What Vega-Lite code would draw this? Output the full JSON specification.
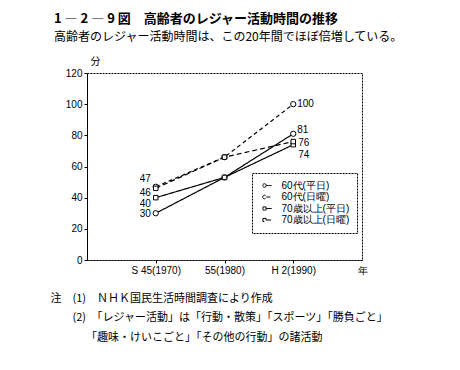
{
  "$schema": "https://vega.github.io/schema/vega-lite/v6.json",
  "width": 275,
  "height": 187,
  "autosize": {"type": "none"},
  "padding": {"left": 87, "top": 73, "right": 98, "bottom": 110},
  "background": "white",
  "config": {
    "font": "Noto Sans CJK JP",
    "view": {"stroke": "#000", "strokeDash": [2, 1], "strokeWidth": 1},
    "axis": {"labelColor": "#000", "titleColor": "#000", "domainColor": "#000", "tickColor": "#000", "grid": false, "labelFont": "Liberation Sans", "labelFontSize": 10},
    "legend": {
      "title": null,
      "orient": "none",
      "legendX": 165,
      "legendY": 100,
      "direction": "vertical",
      "strokeColor": "#000",
      "strokeDash": [2, 1],
      "fillColor": "white",
      "padding": 7.5,
      "symbolSize": 81,
      "symbolStrokeWidth": 1,
      "symbolStrokeColor": "#000",
      "symbolFillColor": "transparent",
      "labelFont": "Liberation Sans",
      "labelFontSize": 10,
      "labelColor": "#000",
      "labelOffset": 12,
      "labelExpr": "datum.label + '\u00a0\u00a0\u00a0\u00a0'",
      "rowPadding": 1.5
    }
  },
  "title": {
    "text": "1  ―  2  ―  9 図　高齢者のレジャー活動時間の推移",
    "subtitle": "高齢者のレジャー活動時間は、この20年間でほぼ倍増している。",
    "anchor": "start",
    "frame": "group",
    "dx": -33,
    "offset": 13,
    "font": "Noto Sans CJK JP",
    "fontSize": 13,
    "fontWeight": "bold",
    "color": "#000",
    "subtitleFont": "Noto Sans CJK JP",
    "subtitleFontSize": 12,
    "subtitleColor": "#000",
    "subtitlePadding": 6
  },
  "data": {
    "values": [
      {"series": "60代(平日)", "year": 1970, "min": 30},
      {"series": "60代(平日)", "year": 1980, "min": 53},
      {"series": "60代(平日)", "year": 1990, "min": 81},
      {"series": "60代(日曜)", "year": 1970, "min": 47},
      {"series": "60代(日曜)", "year": 1980, "min": 66},
      {"series": "60代(日曜)", "year": 1990, "min": 100},
      {"series": "70歳以上(平日)", "year": 1970, "min": 40},
      {"series": "70歳以上(平日)", "year": 1980, "min": 53},
      {"series": "70歳以上(平日)", "year": 1990, "min": 74},
      {"series": "70歳以上(日曜)", "year": 1970, "min": 46},
      {"series": "70歳以上(日曜)", "year": 1980, "min": 66},
      {"series": "70歳以上(日曜)", "year": 1990, "min": 76}
    ]
  },
  "encoding": {
    "x": {
      "field": "year", "type": "quantitative",
      "scale": {"domain": [1960, 2000], "nice": false},
      "axis": {
        "values": [1970, 1980, 1990, 2000],
        "labelExpr": "datum.value == 1970 ? 'S 45(1970)' : datum.value == 1980 ? '55(1980)' : datum.value == 1990 ? 'H 2(1990)' : '年'",
        "tickSize": 3,
        "labelPadding": 2,
        "domainDash": [2, 1],
        "labelFlush": false,
        "labelOverlap": false,
        "tickOpacity": {"condition": {"test": "datum.value == 2000", "value": 0}, "value": 1},
        "title": ["注　(1)　ＮＨＫ国民生活時間調査により作成", "\u200b　　(2)　「レジャー活動」は「行動・散策」「スポーツ」「勝負ごと」", "\u200b　　　\u00a0「趣味・けいこごと」「その他の行動」の諸活動"],
        "titleFont": "Noto Sans CJK JP",
        "titleFontSize": 11,
        "titleFontWeight": "normal",
        "titleAnchor": "start",
        "titleAlign": "left",
        "titleBaseline": "top",
        "titleX": -37,
        "titleY": 32,
        "titleLineHeight": 19.5
      }
    },
    "y": {
      "field": "min", "type": "quantitative",
      "scale": {"domain": [0, 120], "nice": false},
      "axis": {
        "values": [0, 20, 40, 60, 80, 100, 120],
        "tickSize": 3,
        "labelPadding": 2,
        "title": "分",
        "titleAngle": 0,
        "titleFont": "Noto Sans CJK JP",
        "titleFontSize": 10,
        "titleFontWeight": "normal",
        "titleAlign": "left",
        "titleBaseline": "bottom",
        "titleX": 3,
        "titleY": -7
      }
    }
  },
  "layer": [
    {
      "mark": {"type": "line", "color": "#000", "strokeWidth": 1.2},
      "encoding": {
        "strokeDash": {
          "field": "series", "type": "nominal",
          "scale": {"domain": ["60代(平日)", "60代(日曜)", "70歳以上(平日)", "70歳以上(日曜)"], "range": [[1, 0], [4, 3], [1, 0], [5, 3]]}
        }
      }
    },
    {
      "transform": [{"filter": "indexof(datum.series, '60代') == 0"}],
      "mark": {"type": "point", "shape": "circle", "filled": true, "fill": "white", "stroke": "#000", "strokeWidth": 1, "size": 28, "opacity": 1}
    },
    {
      "transform": [{"filter": "indexof(datum.series, '70歳') == 0"}],
      "mark": {"type": "point", "shape": "square", "filled": true, "fill": "white", "stroke": "#000", "strokeWidth": 1, "size": 20, "opacity": 1}
    },
    {
      "transform": [{"filter": "false"}],
      "mark": {"type": "point", "filled": false, "color": "#000", "strokeWidth": 1, "opacity": 1},
      "encoding": {
        "shape": {
          "field": "series", "type": "nominal",
          "scale": {"domain": ["60代(平日)", "60代(日曜)", "70歳以上(平日)", "70歳以上(日曜)"],
            "range": [
              "M-0.4,0 A0.4,0.4 0 1,0 0.4,0 A0.4,0.4 0 1,0 -0.4,0 M0.4,0 L1.6,0",
              "M-0.4,0 A0.4,0.4 0 1,0 0.4,0 A0.4,0.4 0 1,0 -0.4,0 M0.4,0 L1.6,0",
              "M-0.35,-0.35 L0.35,-0.35 L0.35,0.35 L-0.35,0.35 Z M0.35,0 L1.6,0",
              "M-0.35,-0.35 L0.35,-0.35 L0.35,0.35 L-0.35,0.35 Z M0.35,0 L1.6,0"
            ]}
        },
        "strokeDash": {"field": "series", "type": "nominal"}
      }
    },
    {
      "transform": [{"filter": "datum.year == 1970 && datum.series == '60代(日曜)'"}],
      "mark": {"type": "text", "align": "right", "dx": -5, "dy": -8, "font": "Liberation Sans", "fontSize": 10, "color": "#000"},
      "encoding": {"text": {"field": "min"}}
    },
    {
      "transform": [{"filter": "datum.year == 1970 && datum.series == '70歳以上(日曜)'"}],
      "mark": {"type": "text", "align": "right", "dx": -5, "dy": 5, "font": "Liberation Sans", "fontSize": 10, "color": "#000"},
      "encoding": {"text": {"field": "min"}}
    },
    {
      "transform": [{"filter": "datum.year == 1970 && datum.series == '70歳以上(平日)'"}],
      "mark": {"type": "text", "align": "right", "dx": -5, "dy": 6, "font": "Liberation Sans", "fontSize": 10, "color": "#000"},
      "encoding": {"text": {"field": "min"}}
    },
    {
      "transform": [{"filter": "datum.year == 1970 && datum.series == '60代(平日)'"}],
      "mark": {"type": "text", "align": "right", "dx": -5, "dy": 1, "font": "Liberation Sans", "fontSize": 10, "color": "#000"},
      "encoding": {"text": {"field": "min"}}
    },
    {
      "transform": [{"filter": "datum.year == 1990 && datum.series == '60代(日曜)'"}],
      "mark": {"type": "text", "align": "left", "dx": 4, "dy": 0, "font": "Liberation Sans", "fontSize": 10, "color": "#000"},
      "encoding": {"text": {"field": "min"}}
    },
    {
      "transform": [{"filter": "datum.year == 1990 && datum.series == '60代(平日)'"}],
      "mark": {"type": "text", "align": "left", "dx": 4, "dy": -4, "font": "Liberation Sans", "fontSize": 10, "color": "#000"},
      "encoding": {"text": {"field": "min"}}
    },
    {
      "transform": [{"filter": "datum.year == 1990 && datum.series == '70歳以上(日曜)'"}],
      "mark": {"type": "text", "align": "left", "dx": 5, "dy": 1, "font": "Liberation Sans", "fontSize": 10, "color": "#000"},
      "encoding": {"text": {"field": "min"}}
    },
    {
      "transform": [{"filter": "datum.year == 1990 && datum.series == '70歳以上(平日)'"}],
      "mark": {"type": "text", "align": "left", "dx": 5, "dy": 10, "font": "Liberation Sans", "fontSize": 10, "color": "#000"},
      "encoding": {"text": {"field": "min"}}
    }
  ]
}
